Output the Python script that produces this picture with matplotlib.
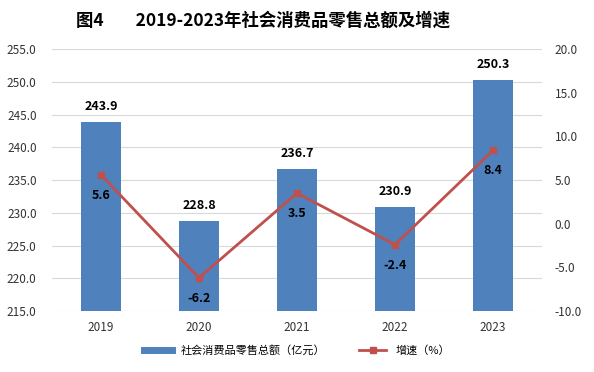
import numpy as np
import matplotlib.pyplot as plt
from matplotlib.lines import Line2D

plt.rcParams['font.family'] = ['Noto Sans CJK SC', 'DejaVu Sans']

years = ['2019', '2020', '2021', '2022', '2023']
sales = [243.9, 228.8, 236.7, 230.9, 250.3]
growth = [5.6, -6.2, 3.5, -2.4, 8.4]

bar_color = '#4F81BD'
line_color = '#C0504D'

fig = plt.figure(figsize=(5.94, 3.72), dpi=100)
ax = fig.add_axes([0.0875, 0.164, 0.825, 0.704])
x = np.arange(len(years))

ax.bar(x, sales, width=0.4, color=bar_color, zorder=2)
ax.set_ylim(215, 255)
ax.set_yticks(np.arange(215, 256, 5))
ax.set_yticklabels([f'{v:.1f}' for v in np.arange(215, 256, 5)])
ax.set_xlim(-0.5, 4.5)
ax.set_xticks(x)
ax.set_xticklabels(years)
ax.grid(axis='y', color='#d9d9d9', linewidth=0.8, zorder=0)
for s in ax.spines.values():
    s.set_visible(False)
ax.tick_params(length=0, labelsize=8.5, colors='#333333')
ax.tick_params(axis='y', pad=11)
ax.tick_params(axis='x', pad=7)
for xi, v in zip(x, sales):
    ax.text(xi, v + 1.3, f'{v:.1f}', ha='center', va='bottom',
            fontsize=9, fontweight='bold')

ax2 = ax.twinx()
ax2.plot(x, growth, color=line_color, linewidth=2, marker='s',
         markersize=5, zorder=3)
ax2.set_ylim(-10, 20)
ax2.set_yticks(np.arange(-10, 21, 5))
ax2.set_yticklabels([f'{v:.1f}' for v in np.arange(-10, 21, 5)])
for s in ax2.spines.values():
    s.set_visible(False)
ax2.tick_params(length=0, labelsize=8.5, colors='#333333', pad=9)
for xi, v in zip(x, growth):
    ax2.text(xi, v - 1.6, f'{v:.1f}', ha='center', va='top',
             fontsize=9, fontweight='bold')

fig.text(0.443, 0.945, '图4        2019-2023年社会消费品零售总额及增速',
         ha='center', va='center', fontsize=12.5, fontweight='bold')

handles = [Line2D([0], [0], color=bar_color, linewidth=5),
           Line2D([0], [0], color=line_color, linewidth=2, marker='s', markersize=5)]
fig.legend(handles, ['社会消费品零售总额（亿元）', '增速（%）'],
           loc='center', bbox_to_anchor=(0.5, 0.058), ncol=2, frameon=False,
           fontsize=8, handlelength=2.5, columnspacing=3)

fig.savefig('out.png', dpi=100)
